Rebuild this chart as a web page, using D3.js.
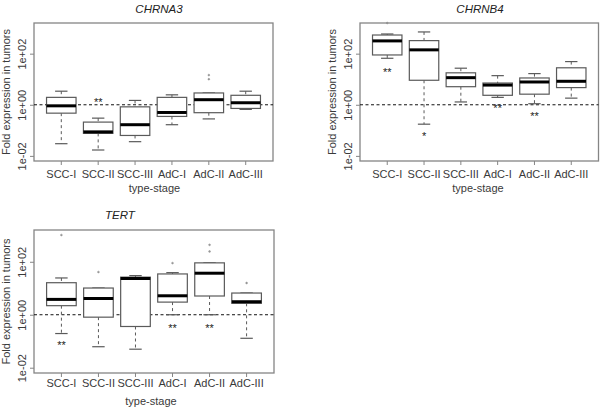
<!DOCTYPE html>
<html>
<head>
<meta charset="utf-8">
<script src="https://cdn.jsdelivr.net/npm/d3@7"></script>
<style>
  html, body { margin: 0; padding: 0; background: #fff; }
  svg { display: block; font-family: "Liberation Sans", Arial, sans-serif; }
</style>
</head>
<body>
<svg id="chart" width="600" height="410"></svg>
<script>
// ---- data ----
const categories = ["SCC-I", "SCC-II", "SCC-III", "AdC-I", "AdC-II", "AdC-III"];
const yTickValues = [0.01, 1, 100];
const yTickLabels = ["1e-02", "1e+00", "1e+02"];
const genes = ["CHRNA3", "CHRNB4", "TERT"];

// CHRNA3
const chrna3Low    = [0.030, 0.017, 0.036, 0.166, 0.28, 0.66];
const chrna3Q1     = [0.47, 0.076, 0.063, 0.35, 0.49, 0.72];
const chrna3Median = [0.91, 0.087, 0.166, 0.50, 1.58, 1.2];
const chrna3Q3     = [1.95, 0.21, 0.83, 1.95, 2.9, 2.35];
const chrna3High   = [3.4, 0.30, 1.48, 2.45, 2.9, 3.4];
const chrna3Outliers = [[], [], [], [], [10, 14.5], []];
const chrna3Stars  = [["", null], ["**", 1.5], ["", null], ["", null], ["", null], ["", null]];

// CHRNB4
const chrnb4Low    = [66, 0.174, 1.29, 1.95, 1.1, 1.82];
const chrnb4Q1     = [89, 9.1, 5.1, 2.35, 2.6, 4.7];
const chrnb4Median = [316, 141, 11.5, 5.9, 7.8, 8.3];
const chrnb4Q3     = [537, 324, 17.8, 7.1, 11.2, 28];
const chrnb4High   = [589, 708, 27, 13.8, 16.6, 49];
const chrnb4Outliers = [[1585], [], [], [], [], []];
const chrnb4Stars  = [["**", 23], ["*", 0.069], ["", null], ["**", 0.89], ["**", 0.43], ["", null]];

// TERT
const tertLow    = [0.195, 0.062, 0.05, 1.0, 1.0, 0.129];
const tertQ1     = [2.2, 0.81, 0.36, 3.0, 5.1, 2.7];
const tertMedian = [3.8, 4.1, 23.4, 5.2, 37, 3.1];
const tertQ3     = [16.2, 10.2, 26.3, 34.7, 91, 6.6];
const tertHigh   = [24.5, 10.2, 30, 38.9, 91, 6.6];
const tertOutliers = [[1023], [41], [], [89], [245, 437], [15.8]];
const tertStars  = [["**", 0.087], ["", null], ["", null], ["**", 0.39], ["**", 0.39], ["", null]];

const yLimits = [Math.pow(10, -2.2), Math.pow(10, 3.2)];

// ---- layout (positions only) ----
const panels = [
  { gene: genes[0], low: chrna3Low, q1: chrna3Q1, med: chrna3Median, q3: chrna3Q3, high: chrna3High, out: chrna3Outliers, stars: chrna3Stars,
    left: 34, right: 273, top: 23, bottom: 161, titleX: 159, titleY: 13, tickY: 178, xTitleX: 154.5, xTitleY: 192 },
  { gene: genes[1], low: chrnb4Low, q1: chrnb4Q1, med: chrnb4Median, q3: chrnb4Q3, high: chrnb4High, out: chrnb4Outliers, stars: chrnb4Stars,
    left: 360, right: 598.5, top: 23, bottom: 161, titleX: 480, titleY: 13, tickY: 178, xTitleX: 478, xTitleY: 192 },
  { gene: genes[2], low: tertLow, q1: tertQ1, med: tertMedian, q3: tertQ3, high: tertHigh, out: tertOutliers, stars: tertStars,
    left: 34, right: 274, top: 230, bottom: 373, titleX: 120, titleY: 219, tickY: 387, xTitleX: 151, xTitleY: 405 }
];

const svg = d3.select("#chart");
const textColor = "#3a3a3a";
const frameColor = "#858585";
const boxColor = "#5a5a5a";

panels.forEach(p => {
  const g = svg.append("g");
  const x = d3.scaleBand().domain(categories).range([p.left, p.right])
    .paddingInner(0.2).paddingOuter(0.34);
  const y = d3.scaleLog().domain(yLimits).range([p.bottom, p.top]);
  const bw = x.bandwidth();
  const cx = c => x(c) + bw / 2;
  const capW = bw * 0.42;

  // axes
  const yAxis = g.append("g").attr("transform", `translate(${p.left},0)`)
    .call(d3.axisLeft(y).tickValues(yTickValues).tickFormat((d, i) => yTickLabels[i]).tickSize(4));
  yAxis.select(".domain").remove();
  yAxis.selectAll("line").attr("stroke", frameColor);
  yAxis.selectAll("text")
    .attr("transform", "rotate(-90)")
    .attr("x", 0).attr("y", -8).attr("dy", 0)
    .attr("text-anchor", "middle")
    .attr("fill", textColor).style("font-size", "11px").style("font-family", "Liberation Sans, Arial, sans-serif");

  const xAxis = g.append("g").attr("transform", `translate(0,${p.bottom})`)
    .call(d3.axisBottom(x).tickSize(4));
  xAxis.select(".domain").remove();
  xAxis.selectAll("line").attr("stroke", frameColor);
  xAxis.selectAll("text").attr("y", p.tickY - p.bottom).attr("dy", 0)
    .attr("fill", textColor).style("font-size", "11px").style("font-family", "Liberation Sans, Arial, sans-serif");

  // frame
  g.append("rect").attr("x", p.left).attr("y", p.top)
    .attr("width", p.right - p.left).attr("height", p.bottom - p.top)
    .attr("fill", "none").attr("stroke", frameColor).attr("stroke-width", 1.3);

  // titles
  g.append("text").attr("x", p.titleX).attr("y", p.titleY).attr("text-anchor", "middle")
    .style("font-style", "italic").style("font-size", "11.5px").attr("fill", "#222").text(p.gene);
  g.append("text").attr("x", p.xTitleX).attr("y", p.xTitleY).attr("text-anchor", "middle")
    .style("font-size", "11px").attr("fill", textColor).text("type-stage");
  const ly = (p.top + p.bottom) / 2;
  g.append("text").attr("transform", `translate(${p.left - 24},${ly}) rotate(-90)`)
    .attr("text-anchor", "middle").style("font-size", "11px").attr("fill", textColor)
    .text("Fold expression in tumors");

  // reference line at 1
  g.append("line").attr("x1", p.left).attr("x2", p.right).attr("y1", y(1)).attr("y2", y(1))
    .attr("stroke", "#111").attr("stroke-width", 1).attr("stroke-dasharray", "3,2.5");

  categories.forEach((c, i) => {
    const xc = cx(c);
    const bg = g.append("g");
    // whiskers
    bg.append("line").attr("x1", xc).attr("x2", xc).attr("y1", y(p.high[i])).attr("y2", y(p.q3[i]))
      .attr("stroke", boxColor).attr("stroke-dasharray", "3,3");
    bg.append("line").attr("x1", xc).attr("x2", xc).attr("y1", y(p.q1[i])).attr("y2", y(p.low[i]))
      .attr("stroke", boxColor).attr("stroke-dasharray", "3,3");
    // staples
    [p.high[i], p.low[i]].forEach(v => {
      bg.append("line").attr("x1", xc - capW / 2).attr("x2", xc + capW / 2).attr("y1", y(v)).attr("y2", y(v))
        .attr("stroke", boxColor).attr("stroke-width", 1.2);
    });
    // box
    bg.append("rect").attr("x", x(c)).attr("width", bw)
      .attr("y", y(p.q3[i])).attr("height", y(p.q1[i]) - y(p.q3[i]))
      .attr("fill", "#fff").attr("stroke", boxColor).attr("stroke-width", 1.2);
    // median
    bg.append("line").attr("x1", x(c)).attr("x2", x(c) + bw).attr("y1", y(p.med[i])).attr("y2", y(p.med[i]))
      .attr("stroke", "#000").attr("stroke-width", 3);
    // outliers
    p.out[i].forEach(v => {
      bg.append("circle").attr("cx", xc).attr("cy", y(v)).attr("r", 0.9)
        .attr("fill", "#999").attr("stroke", "#888").attr("stroke-width", 0.5);
    });
    // significance stars
    const s = p.stars[i];
    if (s[0]) {
      bg.append("text").attr("x", xc).attr("y", y(s[1]) + 6).attr("text-anchor", "middle")
        .style("font-size", "11px").attr("fill", "#222").text(s[0]);
    }
  });
});
</script>
</body>
</html>
